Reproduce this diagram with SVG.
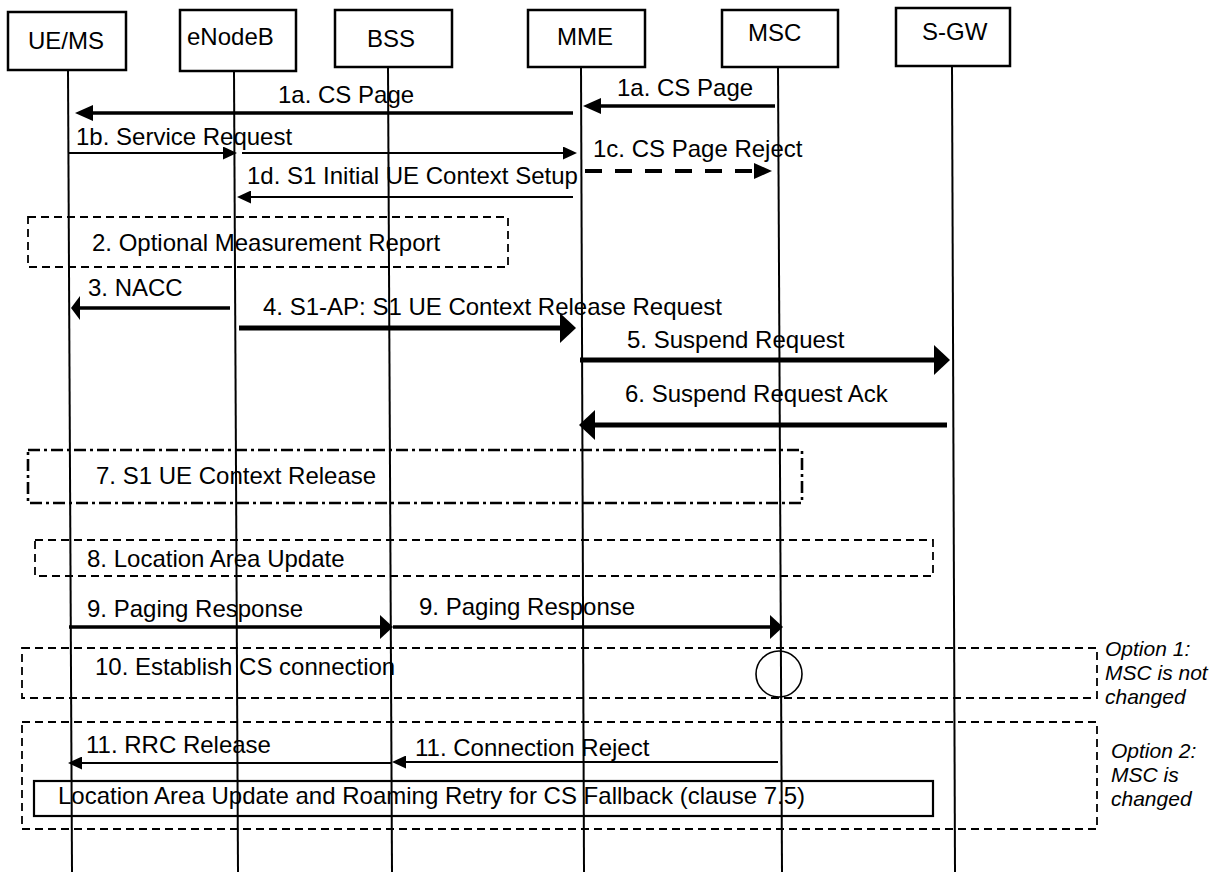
<svg xmlns="http://www.w3.org/2000/svg" width="1218" height="872" viewBox="0 0 1218 872">
<style>
text{font-family:"Liberation Sans",Arial,sans-serif;font-size:24px;fill:#000}
.opt{font-size:21px;font-style:italic}
.hdr{fill:#fff;stroke:#000;stroke-width:2.5}
.life{stroke:#000;stroke-width:2;fill:none}
.thin{stroke:#000;stroke-width:2;fill:none}
.mid{stroke:#000;stroke-width:3.3;fill:none}
.thick{stroke:#000;stroke-width:5;fill:none}
.dash{stroke:#000;stroke-width:1.8;fill:none;stroke-dasharray:8 5}
.dashdot{stroke:#000;stroke-width:2.6;fill:none;stroke-dasharray:12 4 3 4}
.solidbox{stroke:#000;stroke-width:2.2;fill:none}
</style>
<defs>
<marker id="hA" markerUnits="userSpaceOnUse" markerWidth="17" markerHeight="30" refX="0" refY="15" orient="auto"><path d="M0,0 L16,15 L0,30 z" fill="#000"/></marker>
<marker id="hB" markerUnits="userSpaceOnUse" markerWidth="14" markerHeight="24" refX="0" refY="12" orient="auto"><path d="M0,0 L13,12 L0,24 z" fill="#000"/></marker>
<marker id="hC" markerUnits="userSpaceOnUse" markerWidth="19" markerHeight="16" refX="0" refY="8" orient="auto"><path d="M0,0 L18,8 L0,16 z" fill="#000"/></marker>
<marker id="hD" markerUnits="userSpaceOnUse" markerWidth="15" markerHeight="13" refX="0" refY="6.5" orient="auto"><path d="M0,0 L14,6.5 L0,13 z" fill="#000"/></marker>
<marker id="hN" markerUnits="userSpaceOnUse" markerWidth="10" markerHeight="24" refX="0" refY="12" orient="auto"><path d="M0,0 L9,12 L0,24 z" fill="#000"/></marker>
</defs>

<g id="lifelines">
<line class="life" x1="68" y1="70" x2="72" y2="872"/>
<line class="life" x1="234" y1="71" x2="238" y2="872"/>
<line class="life" x1="388" y1="67" x2="392" y2="872"/>
<line class="life" x1="581" y1="67" x2="584" y2="872"/>
<line class="life" x1="778" y1="67" x2="782" y2="872"/>
<line class="life" x1="952" y1="66" x2="955" y2="872"/>
</g>

<g id="node-uems"><rect class="hdr" x="8" y="12" width="118" height="58"/><text x="28" y="49">UE/MS</text></g>
<g id="node-enodeb"><rect class="hdr" x="180" y="10" width="116" height="61"/><text x="187" y="45">eNodeB</text></g>
<g id="node-bss"><rect class="hdr" x="335" y="10" width="117" height="57"/><text x="367" y="47">BSS</text></g>
<g id="node-mme"><rect class="hdr" x="528" y="10" width="117" height="57"/><text x="557" y="45">MME</text></g>
<g id="node-msc"><rect class="hdr" x="722" y="10" width="116" height="57"/><text x="748" y="41">MSC</text></g>
<g id="node-sgw"><rect class="hdr" x="896" y="8" width="114" height="58"/><text x="922" y="40">S-GW</text></g>

<g id="box-2"><rect class="dash" x="28" y="217" width="480" height="50"/><text x="92" y="251">2. Optional Measurement Report</text></g>
<g id="box-7"><rect class="dashdot" x="28" y="450" width="774" height="53"/><text x="96" y="484">7. S1 UE Context Release</text></g>
<g id="box-8"><rect class="dash" x="35" y="540" width="898" height="36"/><text x="87" y="567">8. Location Area Update</text></g>
<g id="box-10"><rect class="dash" x="22" y="648" width="1075" height="50"/><text x="95" y="675">10. Establish CS connection</text><circle cx="779" cy="674" r="23" fill="none" stroke="#000" stroke-width="1.6"/></g>
<g id="box-11"><rect class="dash" x="22" y="722" width="1075" height="107"/></g>
<g id="box-lau"><rect class="solidbox" x="34" y="781" width="899" height="35"/><text x="58" y="804">Location Area Update and Roaming Retry for CS Fallback (clause 7.5)</text></g>
<g id="note-opt1"><text class="opt" x="1105" y="656">Option 1:</text><text class="opt" x="1105" y="680">MSC is not</text><text class="opt" x="1105" y="704">changed</text></g>
<g id="note-opt2"><text class="opt" x="1111" y="758">Option 2:</text><text class="opt" x="1111" y="782">MSC is</text><text class="opt" x="1111" y="806">changed</text></g>

<g id="connectors">
<line class="mid" x1="573" y1="113" x2="93" y2="113" marker-end="url(#hC)"/>
<line class="mid" stroke-width="3" x1="775" y1="106" x2="601" y2="106" marker-end="url(#hC)"/>
<line class="thin" x1="68" y1="153" x2="223" y2="153" marker-end="url(#hD)"/>
<line class="thin" x1="242" y1="153" x2="563" y2="153" marker-end="url(#hD)"/>
<line stroke="#000" stroke-width="4" stroke-dasharray="17 13" x1="585" y1="171" x2="754" y2="171" marker-end="url(#hC)"/>
<line class="thin" x1="573" y1="197" x2="251" y2="197" marker-end="url(#hD)"/>
<line class="mid" stroke-width="3.5" x1="230" y1="308" x2="80" y2="308" marker-end="url(#hN)"/>
<line class="thick" x1="239" y1="328" x2="560" y2="328" marker-end="url(#hA)"/>
<line class="thick" x1="580" y1="360" x2="934" y2="360" marker-end="url(#hA)"/>
<line class="thick" x1="947" y1="425" x2="595" y2="425" marker-end="url(#hA)"/>
<line class="mid" stroke-width="4" x1="69" y1="627" x2="380" y2="627" marker-end="url(#hB)"/>
<line class="mid" stroke-width="4" x1="393" y1="627" x2="770" y2="627" marker-end="url(#hB)"/>
<line class="thin" x1="392" y1="763" x2="82" y2="763" marker-end="url(#hD)"/>
<line class="thin" x1="778" y1="762" x2="406" y2="762" marker-end="url(#hD)"/>
</g>

<g id="labels">
<text x="278" y="103">1a. CS Page</text>
<text x="617" y="96">1a. CS Page</text>
<text x="76" y="145">1b. Service Request</text>
<text x="593" y="157">1c. CS Page Reject</text>
<text x="247" y="184">1d. S1 Initial UE Context Setup</text>
<text x="88" y="296">3. NACC</text>
<text x="263" y="315">4. S1-AP: S1 UE Context Release Request</text>
<text x="627" y="348">5. Suspend Request</text>
<text x="625" y="402">6. Suspend Request Ack</text>
<text x="87" y="617">9. Paging Response</text>
<text x="419" y="615">9. Paging Response</text>
<text x="86" y="753">11. RRC Release</text>
<text x="415" y="756">11. Connection Reject</text>
</g>
</svg>
